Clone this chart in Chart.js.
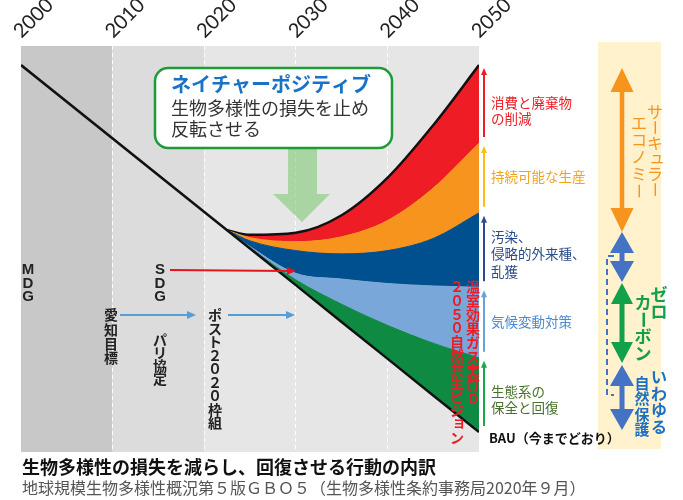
<!DOCTYPE html>
<html><head><meta charset="utf-8">
<script src="https://cdn.jsdelivr.net/npm/chart.js@4.4.1/dist/chart.umd.min.js"></script>
<style>html,body{margin:0;padding:0;background:#fff}#wrap{width:683px;height:500px;position:relative}</style>
</head><body><div id="wrap"><canvas id="c" width="683" height="500"></canvas></div>
<script>
// ---- data (years on x, arbitrary biodiversity index 0-100 on y) ----
const fanYears = [2022.5, 2025, 2030, 2035, 2040, 2045, 2050];
const bauYears = [2000, 2022.5, 2025, 2030, 2035, 2040, 2045, 2050];
const bauValues = [95.3, 54.6, 50.1, 41.1, 32.0, 23.0, 13.9, 4.9];
const ecosystemTop = [54.6, 50.3, 42.4, 36.4, 31.2, 26.8, 23.2];
const climateTop = [54.6, 50.6, 44.0, 42.6, 41.5, 40.9, 40.6];
const pollutionTop = [54.6, 52.0, 49.6, 48.8, 49.6, 52.6, 58.9];
const productionTop = [54.6, 52.8, 51.8, 53.0, 57.0, 65.0, 76.1];
const consumptionTop = [54.6, 53.5, 54.0, 58.3, 67.5, 80.5, 95.3];
const tickYears = [2000, 2010, 2020, 2030, 2040, 2050];
const tickLabels = ['2000', '2010', '2020', '2030', '2040', '2050'];
const eraBounds = [2000, 2010, 2020, 2050];

const bandLabels = [
  {lines: ['消費と廃棄物', 'の削減'], color: '#ee1c25'},
  {lines: ['持続可能な生産'], color: '#f2a31c'},
  {lines: ['汚染、', '侵略的外来種、', '乱獲'], color: '#2b4c8c'},
  {lines: ['気候変動対策'], color: '#4a8ad0'},
  {lines: ['生態系の', '保全と回復'], color: '#47722d'}
];

const pts = (xs, ys) => xs.map((x, i) => ({x: x, y: ys[i]}));
const JP = '"Noto Sans CJK JP", "Noto Sans", sans-serif';

function vtext(ctx, str, x, y0, step, font, color) {
  ctx.save();
  ctx.font = font; ctx.fillStyle = color;
  ctx.textAlign = 'center'; ctx.textBaseline = 'middle';
  const small = 'ョュャッィェォ';
  [...str].forEach((ch, i) => {
    const y = y0 + i * step;
    if (ch === 'ー') {
      ctx.save(); ctx.translate(x, y); ctx.rotate(Math.PI / 2); ctx.fillText(ch, 0, 0); ctx.restore();
    } else if (small.includes(ch)) {
      ctx.fillText(ch, x + 2, y - 2);
    } else {
      ctx.fillText(ch, x, y);
    }
  });
  ctx.restore();
}
function arrowLine(ctx, x1, y1, x2, y2, color, w, hl, hw) {
  const a = Math.atan2(y2 - y1, x2 - x1);
  ctx.save();
  ctx.strokeStyle = color; ctx.fillStyle = color; ctx.lineWidth = w;
  ctx.beginPath(); ctx.moveTo(x1, y1);
  ctx.lineTo(x2 - Math.cos(a) * hl * 0.8, y2 - Math.sin(a) * hl * 0.8); ctx.stroke();
  ctx.beginPath(); ctx.moveTo(x2, y2);
  ctx.lineTo(x2 - Math.cos(a) * hl - Math.sin(a) * hw, y2 - Math.sin(a) * hl + Math.cos(a) * hw);
  ctx.lineTo(x2 - Math.cos(a) * hl + Math.sin(a) * hw, y2 - Math.sin(a) * hl - Math.cos(a) * hw);
  ctx.closePath(); ctx.fill();
  ctx.restore();
}
function dblArrow(ctx, x, top, bottom, shaft, headW, headL, color) {
  ctx.save(); ctx.fillStyle = color;
  ctx.beginPath();
  ctx.moveTo(x, top);
  ctx.lineTo(x + headW / 2, top + headL);
  ctx.lineTo(x + shaft / 2, top + headL);
  ctx.lineTo(x + shaft / 2, bottom - headL);
  ctx.lineTo(x + headW / 2, bottom - headL);
  ctx.lineTo(x, bottom);
  ctx.lineTo(x - headW / 2, bottom - headL);
  ctx.lineTo(x - shaft / 2, bottom - headL);
  ctx.lineTo(x - shaft / 2, top + headL);
  ctx.lineTo(x - headW / 2, top + headL);
  ctx.closePath(); ctx.fill(); ctx.restore();
}

const deco = {
  id: 'deco',
  beforeDraw(chart) {
    const {ctx, chartArea: a, scales: {x}} = chart;
    const cols = ['#c8c8c8', '#dcdcdc', '#e6e6e6'];
    ctx.save();
    for (let i = 0; i < eraBounds.length - 1; i++) {
      const x1 = x.getPixelForValue(eraBounds[i]), x2 = x.getPixelForValue(eraBounds[i + 1]);
      ctx.fillStyle = cols[i];
      ctx.fillRect(x1, a.top, x2 - x1, a.bottom - a.top);
    }
    ctx.fillStyle = '#fff2cc';
    ctx.fillRect(598, 42, 63, 407);
    ctx.restore();
  },
  afterDatasetsDraw(chart) {
    const {ctx} = chart;
    ctx.save();
    ctx.fillStyle = 'rgba(128,202,118,0.6)';
    ctx.beginPath();
    ctx.moveTo(288, 148); ctx.lineTo(317, 148); ctx.lineTo(317, 194); ctx.lineTo(330, 194);
    ctx.lineTo(302, 222); ctx.lineTo(273, 194); ctx.lineTo(288, 194); ctx.closePath(); ctx.fill();
    ctx.restore();
  },
  afterDraw(chart) {
    const {ctx, scales: {x, y}} = chart;
    ctx.save();
    ctx.beginPath(); ctx.roundRect(155, 68, 237, 80, 13);
    ctx.fillStyle = '#fff'; ctx.fill();
    ctx.lineWidth = 2.5; ctx.strokeStyle = '#1e9a36'; ctx.stroke();
    ctx.textAlign = 'left'; ctx.textBaseline = 'middle';
    ctx.font = 'bold 20px ' + JP; ctx.fillStyle = '#1872c8';
    ctx.fillText('ネイチャーポジティブ', 171, 84);
    ctx.font = '18px ' + JP; ctx.fillStyle = '#333';
    ctx.fillText('生物多様性の損失を止め', 171, 108);
    ctx.fillText('反転させる', 171, 129);
    ctx.restore();

    const B14 = 'bold 14px ' + JP;
    vtext(ctx, 'MDG', 28, 270, 13.5, 'bold 15px "Liberation Sans", sans-serif', '#222');
    vtext(ctx, 'SDG', 160, 270, 13.5, 'bold 15px "Liberation Sans", sans-serif', '#222');
    vtext(ctx, '愛知目標', 111, 315, 14.3, B14, '#222');
    vtext(ctx, 'パリ協定', 160, 340, 13, B14, '#222');
    vtext(ctx, 'ポスト２０２０枠組', 215, 315, 13.5, B14, '#222');
    arrowLine(ctx, 170, 270, 296, 271, '#e8141c', 2, 9, 4);
    arrowLine(ctx, 120, 315, 196, 315, '#5b9bd5', 2, 9, 4);
    arrowLine(ctx, 228, 315, 295, 315, '#5b9bd5', 2, 9, 4);
    vtext(ctx, '温室効果ガス実質０', 473, 287, 13.9, B14, '#ee1c25');
    vtext(ctx, '２０５０自然共生ビジョン', 457, 287, 13.7, B14, '#ee1c25');

    const bounds = [consumptionTop, productionTop, pollutionTop, climateTop, ecosystemTop]
      .map(s => y.getPixelForValue(s[s.length - 1]));
    bounds.push(y.getPixelForValue(bauValues[bauValues.length - 1]));
    const arrowCols = ['#ee1c25', '#fbbc1c', '#2e4b8f', '#6aa0d8', '#1aa64a'];
    const offs = [[0, 16], [0], [-12, 5.5, 23], [1], [-2, 14]];
    const ax = x.getPixelForValue(2050) + 5;
    for (let i = 0; i < 5; i++) {
      const t = bounds[i] + 3, b = bounds[i + 1] - 6;
      arrowLine(ctx, ax, b, ax, t, arrowCols[i], 2, 7, 3);
      const mid = (t + b) / 2;
      ctx.save();
      ctx.font = '13.5px ' + JP; ctx.fillStyle = bandLabels[i].color;
      ctx.textAlign = 'left'; ctx.textBaseline = 'middle';
      bandLabels[i].lines.forEach((ln, j) => ctx.fillText(ln, ax + 7, mid + offs[i][j]));
      ctx.restore();
    }
    ctx.save();
    ctx.font = 'bold 13px ' + JP; ctx.fillStyle = '#111';
    ctx.textAlign = 'left'; ctx.textBaseline = 'middle';
    ctx.fillText('BAU（今までどおり）', 489, 438);
    ctx.restore();

    dblArrow(ctx, 622, 68, 232, 4.5, 23, 24, '#f7941d');
    dblArrow(ctx, 622, 232, 282, 5, 24, 21, '#4472c4');
    dblArrow(ctx, 622, 283, 363, 5, 22, 21, '#12a04a');
    dblArrow(ctx, 622, 365, 430, 5, 24, 21, '#4472c4');
    ctx.save();
    ctx.strokeStyle = '#4472c4'; ctx.lineWidth = 2; ctx.setLineDash([6, 4]);
    ctx.beginPath(); ctx.moveTo(614, 256); ctx.lineTo(607, 256); ctx.lineTo(607, 395); ctx.lineTo(614, 395); ctx.stroke();
    ctx.restore();
    vtext(ctx, 'サーキュラー', 655, 112, 15.5, '16px ' + JP, '#f7941d');
    vtext(ctx, 'エコノミー', 639, 123, 17, '16px ' + JP, '#f7941d');
    vtext(ctx, 'ゼロ', 659, 295, 17, 'bold 17px ' + JP, '#12a04a');
    vtext(ctx, 'カーボン', 643, 303, 16.7, 'bold 17px ' + JP, '#12a04a');
    vtext(ctx, 'いわゆる', 659, 377, 16.7, 'bold 16px ' + JP, '#1f6fc5');
    vtext(ctx, '自然保護', 642, 383, 15.5, 'bold 15px ' + JP, '#1f6fc5');

    ctx.save();
    ctx.textAlign = 'left'; ctx.textBaseline = 'middle';
    ctx.font = 'bold 18px ' + JP; ctx.fillStyle = '#111';
    ctx.fillText('生物多様性の損失を減らし、回復させる行動の内訳', 22, 467);
    ctx.font = '16px ' + JP; ctx.fillStyle = '#555';
    ctx.fillText('地球規模生物多様性概況第５版ＧＢＯ５（生物多様性条約事務局2020年９月）', 22, 488);
    ctx.restore();
  }
};

new Chart(document.getElementById('c'), {
  type: 'line',
  data: {
    datasets: [
      {label: 'BAU', data: pts(bauYears, bauValues), borderColor: '#111', borderWidth: 2.5, fill: false, tension: 0},
      {label: '生態系の保全と回復', data: pts(fanYears, ecosystemTop), borderColor: '#0e8a43', borderWidth: 1, backgroundColor: '#0e8a43', fill: 0, cubicInterpolationMode: 'monotone'},
      {label: '気候変動対策', data: pts(fanYears, climateTop), borderColor: '#7aa7da', borderWidth: 1, backgroundColor: '#7aa7da', fill: 1, cubicInterpolationMode: 'monotone'},
      {label: '汚染、侵略的外来種、乱獲', data: pts(fanYears, pollutionTop), borderColor: '#00508f', borderWidth: 1, backgroundColor: '#00508f', fill: 2, cubicInterpolationMode: 'monotone'},
      {label: '持続可能な生産', data: pts(fanYears, productionTop), borderColor: '#f7941d', borderWidth: 1, backgroundColor: '#f7941d', fill: 3, cubicInterpolationMode: 'monotone'},
      {label: '消費と廃棄物の削減', data: pts(fanYears, consumptionTop), borderColor: '#111', borderWidth: 2.5, backgroundColor: '#ee1c25', fill: 4, cubicInterpolationMode: 'monotone'}
    ]
  },
  options: {
    responsive: false,
    animation: false,
    layout: {padding: {left: 21, right: 204, top: 0, bottom: 48}},
    elements: {point: {radius: 0}},
    scales: {
      x: {
        type: 'linear', position: 'top', min: 2000, max: 2050,
        afterFit(s) { s.height = 46; },
        ticks: {
          stepSize: 10, autoSkip: false, minRotation: 45, maxRotation: 45, padding: 3, labelOffset: 13,
          font: {family: 'Lato', size: 20}, color: '#222',
          callback: v => { const i = tickYears.indexOf(v); return i >= 0 ? tickLabels[i] : ''; }
        },
        grid: {
          drawTicks: false, lineWidth: 1,
          color: c => (c.tick && c.tick.value > 2000 && c.tick.value < 2050) ? '#ffffff' : 'rgba(0,0,0,0)'
        },
        border: {display: false, dash: [4, 3]}
      },
      y: {display: false, min: 0, max: 100}
    },
    plugins: {
      legend: {display: false},
      tooltip: {enabled: false},
      filler: {drawTime: 'beforeDatasetsDraw'}
    }
  },
  plugins: [deco]
});
</script>
</body></html>
